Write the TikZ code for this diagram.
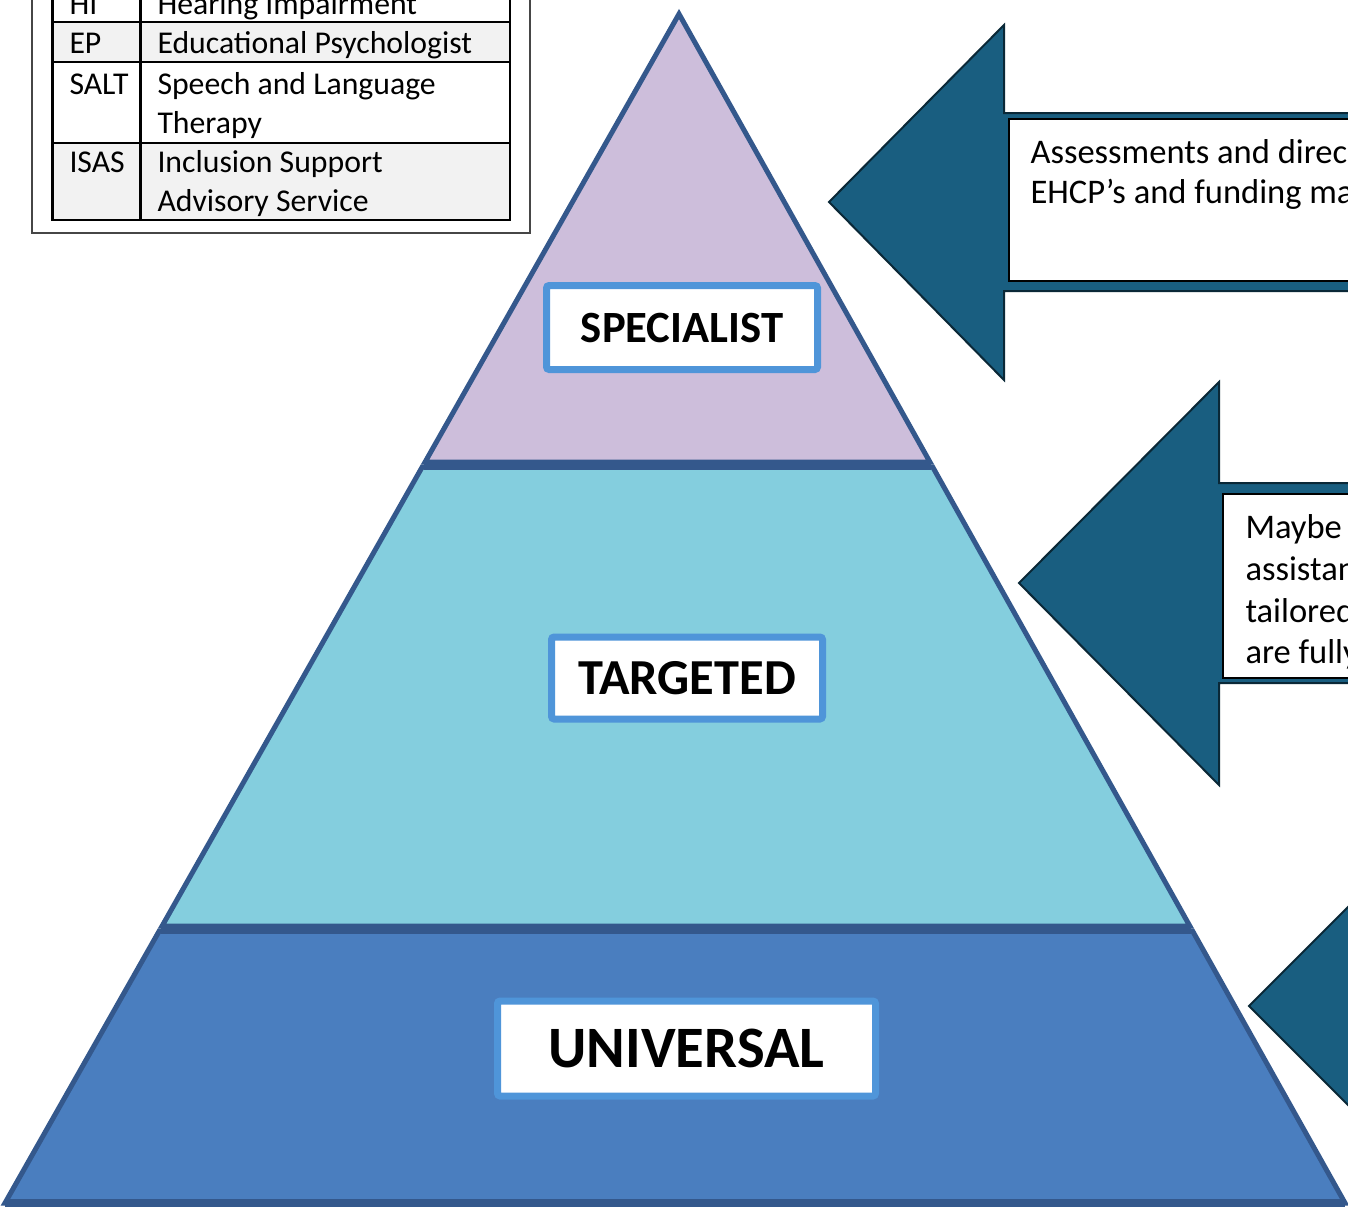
\documentclass[tikz,border=0pt]{standalone}
\usepackage{fontspec}
\setmainfont{Carlito}

\definecolor{tierTop}{RGB}{205,190,219}
\definecolor{tierMid}{RGB}{132,206,222}
\definecolor{tierBase}{RGB}{74,126,191}
\definecolor{tierEdge}{RGB}{52,88,140}
\definecolor{labelBlue}{RGB}{79,149,217}
\definecolor{arrowFill}{RGB}{25,94,128}
\definecolor{arrowEdge}{RGB}{10,40,55}
\definecolor{rowGrey}{RGB}{242,242,242}
\definecolor{frameGrey}{RGB}{70,70,70}

\tikzset{every picture/.style={line width=0.75pt}}
\tikzset{
  tier/.style={draw=tierEdge, line width=3.75pt, line join=miter},
  tierLabel/.style={draw=labelBlue, fill=white, line width=5.25pt, rounded corners=2pt, inner sep=0pt},
  leftArrow/.style={draw=arrowEdge, fill=arrowFill, line width=1.5pt, line join=miter},
  arrowBox/.style={draw=black, fill=white, line width=1pt},
  keyRule/.style={draw=black, line width=2pt},
  keyText/.style={anchor=base west, inner sep=0.75pt, font=\fontsize{23.8}{29}\selectfont},
  arrowText/.style={anchor=base west, inner sep=0.75pt, font=\fontsize{25.9}{31}\selectfont},
}

\begin{document}
\begin{tikzpicture}[x=0.75pt,y=0.75pt,yscale=-1,xscale=1]
    \useasboundingbox (0,0) rectangle (1348,1207);
    \clip (0,0) rectangle (1348,1207);
    \fill [white] (0,0) rectangle (1348,1207);

    %Shape: Triangle (top tier)
    \draw [tier, fill=tierTop] (679,14) -- (425.1,462) -- (929.9,462) -- cycle ;
    %Shape: Trapezoid (middle tier)
    \draw [tier, fill=tierMid] (422.2,467) -- (162.1,926) -- (1189.8,926) -- (932.7,467) -- cycle ;
    %Shape: Trapezoid (bottom tier)
    \draw [tier, fill=tierBase] (159.2,931) -- (5,1203) -- (1345,1203) -- (1192.6,931) -- cycle ;
    %Straight Lines (tier borders and base)
    \draw [draw=tierEdge, line width=7.5pt] (423.6,464.5) -- (931.3,464.5) ;
    \draw [draw=tierEdge, line width=7.5pt] (160.6,928.5) -- (1191.2,928.5) ;
    \draw [draw=tierEdge, line width=6pt] (5,1203) -- (1345,1203) ;

    % Tier labels
    \draw (682,327.5) node (specialist) [tierLabel, minimum width=203.25pt, minimum height=63pt, font=\fontsize{33.5}{40}\selectfont\bfseries] {SPECIALIST};
    \draw (687,678) node (targeted) [tierLabel, minimum width=203.25pt, minimum height=61.5pt, font=\fontsize{37.8}{44}\selectfont\bfseries] {TARGETED};
    \draw (686.5,1048.5) node (universal) [tierLabel, minimum width=283.5pt, minimum height=71.25pt, font=\fontsize{44}{52}\selectfont\bfseries] {UNIVERSAL};

    %Shape: Rectangle (key frame)
    \draw [draw=frameGrey, line width=1.5pt, fill=white] (32,-30) rectangle (530,233) ;
    %Shape: Rectangle (key rows)
    \fill [white] (52.5,-20) rectangle (510,22) ;
    \fill [rowGrey] (52.5,22) rectangle (510,62) ;
    \fill [white] (52.5,62) rectangle (510,143) ;
    \fill [rowGrey] (52.5,143) rectangle (510,220) ;
    %Straight Lines (key grid)
    \draw [keyRule] (52.5,-20) rectangle (510,220) ;
    \draw [keyRule] (140.5,-20) -- (140.5,220) ;
    \draw [keyRule] (52.5,22) -- (510,22) ;
    \draw [keyRule] (52.5,62) -- (510,62) ;
    \draw [keyRule] (52.5,143) -- (510,143) ;

    % Text Node
    \draw (68,14) node (abbrHI) [keyText] {HI};
    % Text Node
    \draw (156,14) node (nameHI) [keyText] {Hearing Impairment};
    % Text Node
    \draw (68,53) node (abbrEP) [keyText] {EP};
    % Text Node
    \draw (156,53) node (nameEP) [keyText] {Educational Psychologist};
    % Text Node
    \draw (68,94) node (abbrSALT) [keyText] {SALT};
    % Text Node
    \draw (156,94) node (nameSALT) [keyText] {Speech and Language};
    % Text Node
    \draw (156,133) node (nameSALTb) [keyText] {Therapy};
    % Text Node
    \draw (68,172) node (abbrISAS) [keyText] {ISAS};
    % Text Node
    \draw (156,172) node (nameISAS) [keyText] {Inclusion Support};
    % Text Node
    \draw (156,211) node (nameISASb) [keyText] {Advisory Service};

    %Shape: Left Arrow (specialist)
    \draw [leftArrow] (829,202) -- (1004,25) -- (1004,113) -- (1360,113) -- (1360,291) -- (1004,291) -- (1004,380) -- cycle ;
    %Shape: Rectangle
    \draw [arrowBox] (1009,119) rectangle (1360,281) ;
    % Text Node
    \draw (1029,163) node (specA) [arrowText] {Assessments and direc};
    % Text Node
    \draw (1029,203) node (specB) [arrowText] {EHCP’s and funding ma};

    %Shape: Left Arrow (targeted)
    \draw [leftArrow] (1019,583) -- (1219,382) -- (1219,483) -- (1360,483) -- (1360,683) -- (1219,683) -- (1219,785) -- cycle ;
    %Shape: Rectangle
    \draw [arrowBox] (1223,494) rectangle (1360,678) ;
    % Text Node
    \draw (1244,538) node (targA) [arrowText] {Maybe};
    % Text Node
    \draw (1244,580) node (targB) [arrowText] {assistan};
    % Text Node
    \draw (1244,622) node (targC) [arrowText] {tailored};
    % Text Node
    \draw (1244,663) node (targD) [arrowText] {are fully};

    %Shape: Left Arrow (universal)
    \draw [leftArrow] (1249,1006) -- (1460,795) -- (1460,1217) -- cycle ;

\end{tikzpicture}
\end{document}
